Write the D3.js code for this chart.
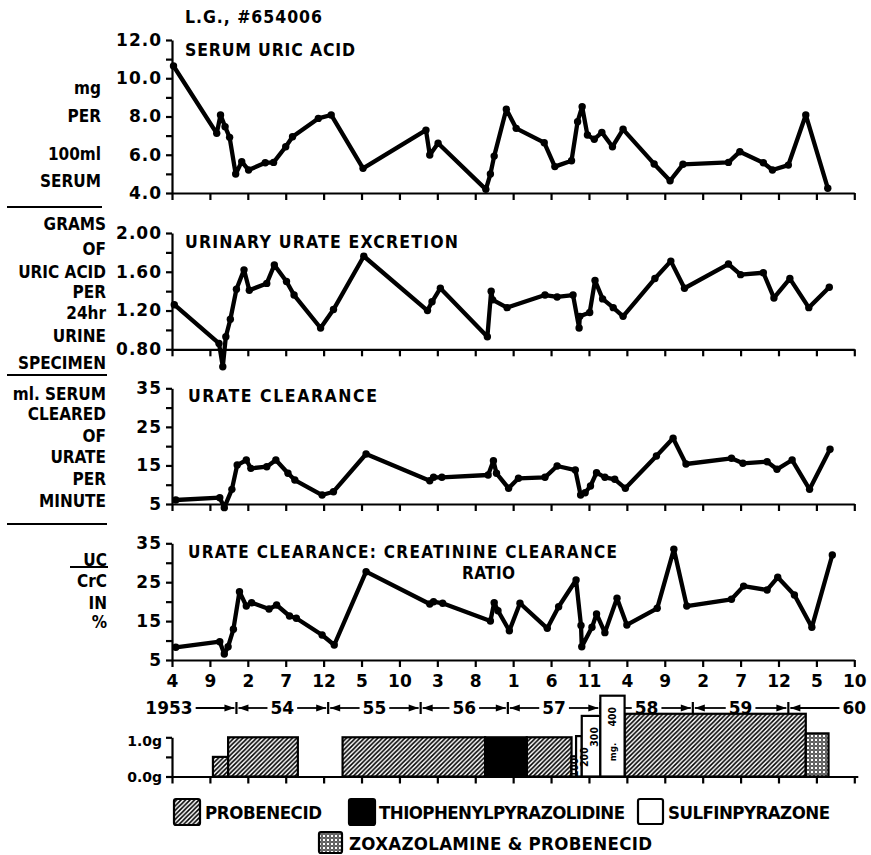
<!DOCTYPE html>
<html><head><meta charset="utf-8">
<script src="https://cdn.jsdelivr.net/npm/d3@7"></script>
<style>
html,body{margin:0;padding:0;background:#fff;}
svg{display:block;}
text{font-weight:bold;fill:#000;}
</style></head><body>
<svg id="chart" width="871" height="855"></svg>
<script>
// ---------------- DATA (month index: 0 = Jan 1953) ----------------
const serumUricAcid = [[3.2,10.64],[8.9,7.12],[9.4,8.08],[10.0,7.47],[10.6,6.91],[11.4,4.99],[12.2,5.64],[13.1,5.2],[15.3,5.58],[16.4,5.6],[18.0,6.42],[18.9,6.94],[22.3,7.9],[24.0,8.08],[28.2,5.29],[36.5,7.29],[37.0,5.99],[38.1,6.6],[44.4,4.19],[45.0,4.99],[45.5,5.93],[47.1,8.38],[48.4,7.38],[52.1,6.63],[53.5,5.38],[55.7,5.69],[56.5,7.73],[57.1,8.51],[57.8,7.03],[58.7,6.81],[59.7,7.17],[61.1,6.42],[62.5,7.33],[66.6,5.52],[68.7,4.64],[70.4,5.5],[76.4,5.6],[77.9,6.16],[81.0,5.58],[82.2,5.2],[84.3,5.46],[86.6,8.08],[89.5,4.25]];
const urinaryUrate = [[3.3,1.26],[9.2,0.86],[9.7,0.62],[10.1,0.93],[10.7,1.11],[11.5,1.42],[12.5,1.62],[13.2,1.41],[15.5,1.48],[16.5,1.67],[18.1,1.50],[19.1,1.36],[22.6,1.02],[24.3,1.21],[28.3,1.76],[36.7,1.20],[37.3,1.29],[38.4,1.43],[44.6,0.93],[45.1,1.40],[45.3,1.31],[47.2,1.23],[52.2,1.36],[53.8,1.34],[55.9,1.36],[56.7,1.02],[56.8,1.14],[58.1,1.18],[58.8,1.51],[59.8,1.32],[61.2,1.23],[62.5,1.14],[66.7,1.53],[68.8,1.71],[70.6,1.43],[76.4,1.68],[78.0,1.57],[81.0,1.59],[82.4,1.33],[84.5,1.53],[87.0,1.23],[89.7,1.44]];
const urateClearance = [[3.5,6.04],[9.3,6.63],[9.9,4.05],[10.9,8.8],[11.6,15.1],[12.8,16.4],[13.4,14.25],[15.5,14.67],[16.7,16.4],[18.3,12.96],[19.2,11.22],[22.8,7.33],[24.3,8.19],[28.6,17.96],[37.0,11.04],[37.5,11.92],[38.6,11.92],[44.7,12.52],[45.4,16.23],[45.8,12.96],[47.4,9.07],[48.7,11.66],[52.2,11.92],[53.8,14.85],[56.2,13.8],[56.9,7.33],[57.5,7.93],[58.2,9.67],[59.0,13.12],[60.1,11.92],[61.4,11.4],[62.8,9.07],[66.9,17.44],[69.1,22.03],[70.8,15.37],[76.8,16.85],[78.3,15.55],[81.5,15.97],[82.8,14.0],[84.8,16.4],[87.1,8.8],[89.8,19.18]];
const clearanceRatio = [[3.5,8.26],[9.3,9.7],[9.9,6.54],[10.4,8.42],[11.1,12.9],[11.9,22.56],[12.8,18.88],[13.5,19.73],[15.8,18.1],[16.8,19.14],[18.5,16.31],[19.4,15.72],[22.8,11.43],[24.4,8.86],[28.6,27.7],[37.0,19.4],[37.5,19.99],[38.7,19.58],[45.0,15.03],[45.5,19.73],[46.0,17.67],[47.5,12.53],[48.9,19.58],[52.5,13.15],[54.0,18.7],[56.3,25.56],[56.95,13.9],[57.05,8.42],[58.4,13.4],[59.0,16.83],[60.1,12.03],[61.7,20.86],[63.0,14.0],[67.0,18.29],[69.2,33.46],[70.9,18.88],[76.8,20.6],[78.4,24.0],[81.5,23.0],[82.9,26.26],[85.1,21.7],[87.4,13.4],[90.1,31.99]];

const monthTicks = [3,8,13,18,23,28,33,38,43,48,53,58,63,68,73,78,83,88,93];
const monthTickLabels = ["4","9","2","7","12","5","10","3","8","1","6","11","4","9","2","7","12","5","10"];
const yearLabels = ["1953","54","55","56","57","58","59","60"];
const yearBounds = [11.5,23.6,35.8,47.3,59.5,71.7,84.3];

const serumMajorTicks = [4,6,8,10,12], serumMinorTicks = [5,7,9,11];
const urinaryMajorTicks = [0.8,1.2,1.6,2.0], urinaryMinorTicks = [1.0,1.4,1.8];
const clearanceMajorTicks = [5,15,25,35], clearanceMinorTicks = [10,20,30];
const ratioMajorTicks = [5,15,25,35], ratioMinorTicks = [10,20,30];
const doseTicks = [0,0.5,1.0];
const doseTickLabels = ["0.0g","","1.0g"];

// dose segments: [start month, end month, dose]
const probenecidDoses = [[8.4,10.4,0.5],[10.4,19.6,1.0],[25.5,44.3,1.0],[49.8,55.7,1.0],[62.7,86.6,1.6]];
const thiophenylDoses = [[44.3,49.8,1.0]];
const sulfinpyrazoneDoses = [[55.7,56.3,100],[56.3,57.05,200],[57.05,59.5,300],[59.5,62.7,400]]; // mg
const sulfinLabels = ["100","200","300","400"];
const zoxazolamineDoses = [[86.6,89.6,1.1]];

const titleText = "L.G., #654006";
const panelTitles = ["SERUM URIC ACID","URINARY URATE EXCRETION","URATE CLEARANCE","URATE CLEARANCE: CREATININE CLEARANCE"];
const ratioSubtitle = "RATIO";
const serumUnits = ["mg","PER","100ml","SERUM"];
const urinaryUnits = ["GRAMS","OF","URIC ACID","PER","24hr","URINE","SPECIMEN"];
const clearanceUnits = ["ml. SERUM","CLEARED","OF","URATE","PER","MINUTE"];
const ratioUnits = ["UC","CrC","IN","%"];
const legendLabels = ["PROBENECID","THIOPHENYLPYRAZOLIDINE","SULFINPYRAZONE","ZOXAZOLAMINE & PROBENECID"];

// ---------------- RENDER ----------------
const FONT = "'DejaVu Sans Condensed','DejaVu Sans',sans-serif";
const NUMFONT = "'DejaVu Sans',sans-serif";
const svg = d3.select("#chart");
const defs = svg.append("defs");
const hp = defs.append("pattern").attr("id","hatch").attr("patternUnits","userSpaceOnUse").attr("width",4.5).attr("height",4.5);
hp.append("rect").attr("width",4.5).attr("height",4.5).attr("fill","#fff");
hp.append("path").attr("d","M-1,1 L1,-1 M0,4.5 L4.5,0 M3.5,5.5 L5.5,3.5").attr("stroke","#000").attr("stroke-width",1.6);
const dp = defs.append("pattern").attr("id","dots").attr("patternUnits","userSpaceOnUse").attr("width",4).attr("height",4);
dp.append("rect").attr("width",4).attr("height",4).attr("fill","#fff");
dp.append("circle").attr("cx",2).attr("cy",2).attr("r",1.3).attr("fill","none").attr("stroke","#000").attr("stroke-width",1);

const x = d3.scaleLinear().domain([3,93]).range([172,854.3]);

function txt(str, px, py, o={}) {
  const t = svg.append("text").attr("x",px).attr("y",py).text(str)
    .style("font-family", o.font || FONT).style("font-size",(o.size||16)+"px")
    .attr("text-anchor", o.anchor || "start");
  if (o.len) t.attr("textLength",o.len).attr("lengthAdjust","spacing");
  if (o.ls) t.style("letter-spacing", o.ls+"px");
  return t;
}

txt(titleText, 185, 23, {size:17.5, len:137});

const panels = [
  {data:serumUricAcid, dom:[4,12], rng:[193,40], major:serumMajorTicks, minor:serumMinorTicks, fmt:d3.format(".1f"),
   title:panelTitles[0], tx:185, ty:55.5, tsize:17.5, tlen:170, units:serumUnits, uy:[94,122,159.5,187], ux:101},
  {data:urinaryUrate, dom:[0.8,2.0], rng:[349.3,233], major:urinaryMajorTicks, minor:urinaryMinorTicks, fmt:d3.format(".2f"),
   title:panelTitles[1], tx:185, ty:248, tsize:17.5, tlen:273, units:urinaryUnits, uy:[230,254.5,278,297.5,319,342,369], ux:106},
  {data:urateClearance, dom:[5,35], rng:[504,388.3], major:clearanceMajorTicks, minor:clearanceMinorTicks, fmt:d3.format("d"),
   title:panelTitles[2], tx:188, ty:401.5, tsize:17.5, tlen:189, units:clearanceUnits, uy:[399.5,420,441.5,463,484.5,507], ux:106},
  {data:clearanceRatio, dom:[5,35], rng:[660,543.3], major:ratioMajorTicks, minor:ratioMinorTicks, fmt:d3.format("d"),
   title:panelTitles[3], tx:188, ty:558, tsize:17, tlen:429, units:ratioUnits, uy:[565.5,586.5,609,628], ux:107}
];

function styleAxis(g) {
  g.selectAll("path.domain").attr("stroke","#000").attr("stroke-width",2.2);
  g.selectAll(".tick line").attr("stroke","#000").attr("stroke-width",2.2);
  g.selectAll(".tick text").style("font-family",NUMFONT).style("font-size","17px").style("font-weight","bold").style("letter-spacing","1px");
}

panels.forEach((p,pi) => {
  const y = d3.scaleLinear().domain(p.dom).range(p.rng);
  const gy = svg.append("g").attr("transform",`translate(${x.range()[0]},0)`)
    .call(d3.axisLeft(y).tickValues(p.major).tickFormat(p.fmt).tickSize(6).tickSizeOuter(0).tickPadding(4));
  styleAxis(gy);
  const gym = svg.append("g").attr("transform",`translate(${x.range()[0]},0)`)
    .call(d3.axisLeft(y).tickValues(p.minor).tickFormat("").tickSize(6).tickSizeOuter(0));
  gym.select("path.domain").remove();
  styleAxis(gym);
  const gx = svg.append("g").attr("transform",`translate(0,${p.rng[0]})`)
    .call(d3.axisBottom(x).tickValues(monthTicks).tickSize(7).tickSizeOuter(0).tickPadding(8)
      .tickFormat(pi===3 ? ((d,i)=>monthTickLabels[i]) : ""));
  styleAxis(gx);
  gx.selectAll(".tick text").style("letter-spacing","0px");
  txt(p.title, p.tx, p.ty, {size:p.tsize, len:p.tlen});
  p.units.forEach((u,i) => txt(u, p.ux, p.uy[i], {size:17, anchor:"end"}));
  const line = d3.line().x(d=>x(d[0])).y(d=>y(d[1]));
  svg.append("path").datum(p.data).attr("d",line).attr("fill","none").attr("stroke","#000")
    .attr("stroke-width",4.3).attr("stroke-linejoin","round").attr("stroke-linecap","round");
  svg.append("g").selectAll("circle").data(p.data).join("circle")
    .attr("cx",d=>x(d[0])).attr("cy",d=>y(d[1])).attr("r",3.7).attr("fill","#000");
});
txt(ratioSubtitle, 462, 578.5, {size:17, len:53});
svg.append("line").attr("x1",70).attr("x2",108).attr("y1",567).attr("y2",567).attr("stroke","#000").attr("stroke-width",2);
[[207,102],[375,107],[524,107]].forEach(s => svg.append("line").attr("x1",7).attr("x2",s[1]).attr("y1",s[0]).attr("y2",s[0]).attr("stroke","#000").attr("stroke-width",2.2));

// ---------------- YEAR ROW ----------------
const yr = 708;
const yearX = yearLabels.map((l,i) => i===0 ? x(3)-3 : (i===yearLabels.length-1 ? x(93) : (x(yearBounds[i-1])+x(yearBounds[i]))/2));
const yearTexts = yearLabels.map((l,i) => txt(l, yearX[i], yr+6.2, {font:NUMFONT, size:17, anchor:"middle"}));
function arrow(x1, x2) {
  svg.append("line").attr("x1",x1).attr("x2",x2).attr("y1",yr).attr("y2",yr).attr("stroke","#000").attr("stroke-width",1.8);
  const dir = x2 > x1 ? 1 : -1;
  svg.append("path").attr("d",`M${x2},${yr} L${x2-dir*10},${yr-3.5} L${x2-dir*10},${yr+3.5} Z`).attr("fill","#000");
}
yearTexts.forEach((t,i) => {
  const w = t.node().getComputedTextLength();
  const L = yearX[i]-w/2, R = yearX[i]+w/2;
  if (i>0) arrow(L-3, x(yearBounds[i-1])+2);
  if (i<yearTexts.length-1) arrow(R+3, x(yearBounds[i])-2);
});
yearBounds.forEach(b => svg.append("line").attr("x1",x(b)).attr("x2",x(b)).attr("y1",yr-6).attr("y2",yr+6).attr("stroke","#000").attr("stroke-width",2.2));

// ---------------- DOSE PANEL ----------------
const yDose = d3.scaleLinear().domain([0,1]).range([776.5,737.3]);
const yMg = d3.scaleLinear().domain([0,400]).range([776.5,695.7]);
const doseRects = [];
probenecidDoses.forEach(d => doseRects.push({x0:x(d[0]),x1:x(d[1]),top:yDose(d[2]),fill:"url(#hatch)"}));
thiophenylDoses.forEach(d => doseRects.push({x0:x(d[0]),x1:x(d[1]),top:yDose(d[2]),fill:"#000"}));
sulfinpyrazoneDoses.forEach(d => doseRects.push({x0:x(d[0]),x1:x(d[1]),top:yMg(d[2]),fill:"#fff"}));
zoxazolamineDoses.forEach(d => doseRects.push({x0:x(d[0]),x1:x(d[1]),top:yDose(d[2]),fill:"url(#dots)"}));
svg.append("g").selectAll("rect").data(doseRects).join("rect")
  .attr("x",d=>d.x0).attr("y",d=>d.top).attr("width",d=>d.x1-d.x0).attr("height",d=>yDose(0)-d.top)
  .attr("fill",d=>d.fill).attr("stroke","#000").attr("stroke-width",2.2);
const sOff = [[3,-9],[8,-20],[13,-20],[12,-20]];
sulfinpyrazoneDoses.forEach((d,i) => {
  const cx = x(d[0]) + sOff[i][0];
  const cy = (i===0 ? yDose(0)-9 : yMg(d[2]) + 21);
  svg.append("text").attr("transform",`translate(${cx},${cy}) rotate(-90)`).attr("text-anchor","middle").attr("dy","0.35em")
    .text(sulfinLabels[i]).style("font-family",FONT).style("font-size","10.5px");
});
svg.append("text").attr("transform",`translate(${x(sulfinpyrazoneDoses[3][0])+12},752) rotate(-90)`).attr("text-anchor","middle").attr("dy","0.35em")
  .text("mg.").style("font-family",FONT).style("font-size","9.5px");

const gdx = svg.append("g").attr("transform",`translate(0,${yDose(0)})`)
  .call(d3.axisBottom(x).tickValues(monthTicks).tickSize(7).tickSizeOuter(0).tickFormat(""));
gdx.select("path.domain").attr("d",`M${x(3)},0.5H${x(93)+4}`);
styleAxis(gdx);
const gdy = svg.append("g").attr("transform",`translate(${x(3)},0)`)
  .call(d3.axisLeft(yDose).tickValues(doseTicks).tickFormat("").tickSize(6).tickSizeOuter(0));
styleAxis(gdy);
doseTicks.forEach((t,i) => { if (doseTickLabels[i]) txt(doseTickLabels[i], 162, yDose(t)+ (t===0?5.5:9), {font:NUMFONT, size:14, anchor:"end"}); });

// ---------------- LEGEND ----------------
function lbox(x0,y0,w,h,fill){ svg.append("rect").attr("x",x0).attr("y",y0).attr("width",w).attr("height",h).attr("rx",2).attr("fill",fill).attr("stroke","#000").attr("stroke-width",2.2); }
lbox(174,799,26,26,"url(#hatch)");
txt(legendLabels[0], 205, 818.5, {size:18.5, len:117});
lbox(349,799,26,26,"#000");
txt(legendLabels[1], 379, 818.5, {size:18.5, len:246});
lbox(638,799,25,25,"#fff");
txt(legendLabels[2], 668, 818.5, {size:18.5, len:162});
lbox(319,832,23,21,"url(#dots)");
txt(legendLabels[3], 349, 850, {size:18.5, len:303});
</script>
</body></html>
